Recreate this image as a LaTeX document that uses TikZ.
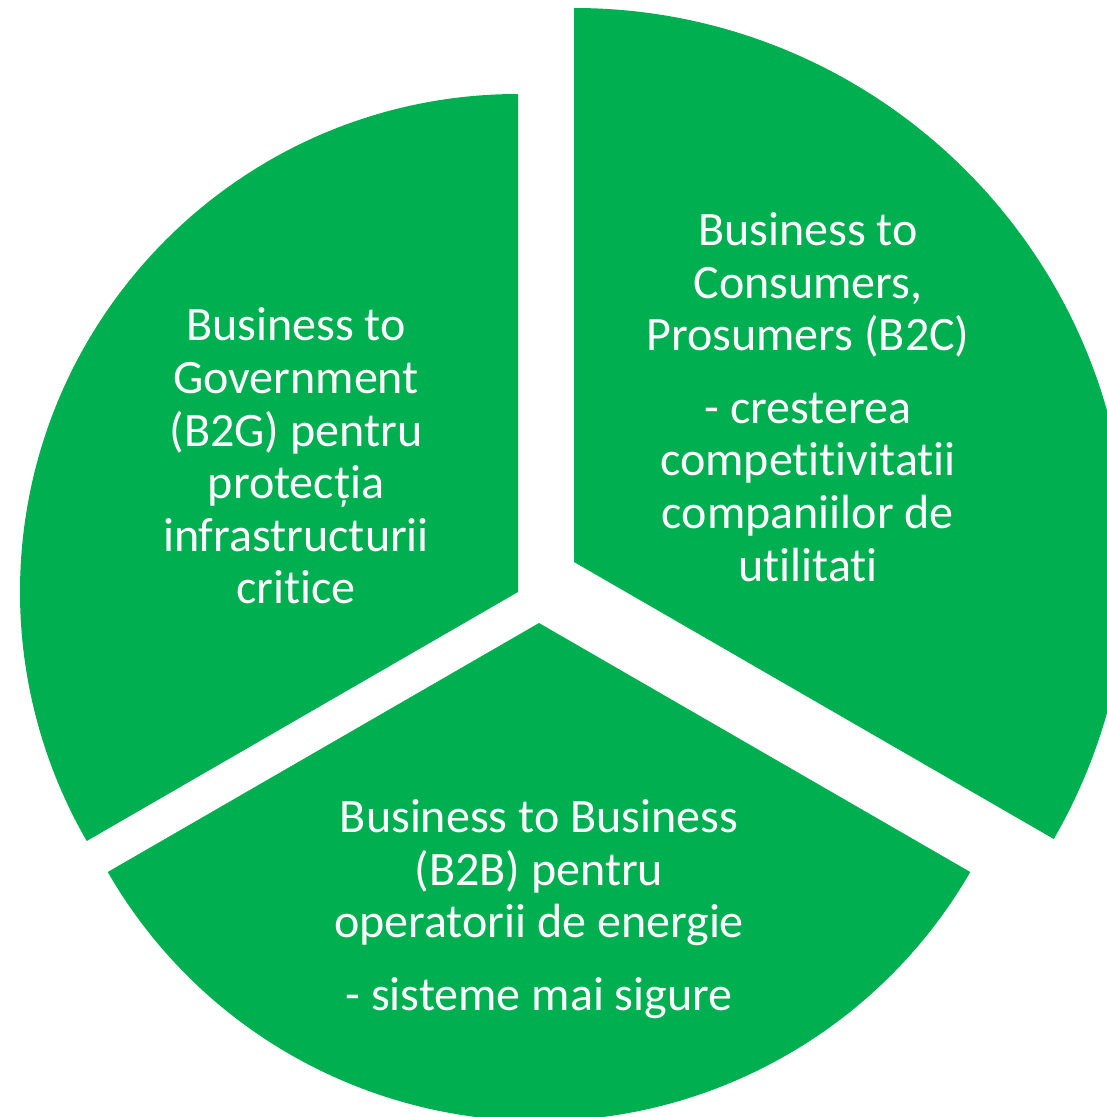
\documentclass[tikz,border=0pt]{standalone}
\usepackage{fontspec}
\setmainfont{Carlito}[RawFeature={-liga;-clig;-dlig}]
\definecolor{piegreen}{HTML}{00B050}
\begin{document}
\begin{tikzpicture}[x=1pt,y=-1pt,
  slice/.style={fill=piegreen,draw=none},
  label/.style={text=white,align=center,inner sep=0pt,
    font=\fontsize{48}{52.6}\selectfont}]
\useasboundingbox (0,0) rectangle (1107,1117);
\clip (0,0) rectangle (1107,1117);
% left slice: B2G
\coordinate (cl) at (518,592);
\fill[slice] (cl) -- ++(0,-498) arc[start angle=-90,end angle=-210,radius=498] -- cycle;
% right slice: B2C
\coordinate (cr) at (574,562);
\fill[slice] (cr) -- ++(0,-554) arc[start angle=-90,end angle=30,radius=554] -- cycle;
% bottom slice: B2B
\coordinate (cb) at (539,623);
\fill[slice] (cb) -- ++(150:498) arc[start angle=150,end angle=30,radius=498] -- cycle;
% labels
\node[label] (tl) at (296,456) {Business to\\Government\\(B2G) pentru\\protecția\\infrastructurii\\critice};
\node[label] (tr) at (808,397) {Business to\\Consumers,\\Prosumers (B2C)\\[20pt]- cresterea\\competitivitatii\\companiilor de\\utilitati};
\node[label] (tb) at (539,909) {Business to Business\\(B2B) pentru\\operatorii de energie\\[20pt]- sisteme mai sigure};
\end{tikzpicture}
\end{document}
